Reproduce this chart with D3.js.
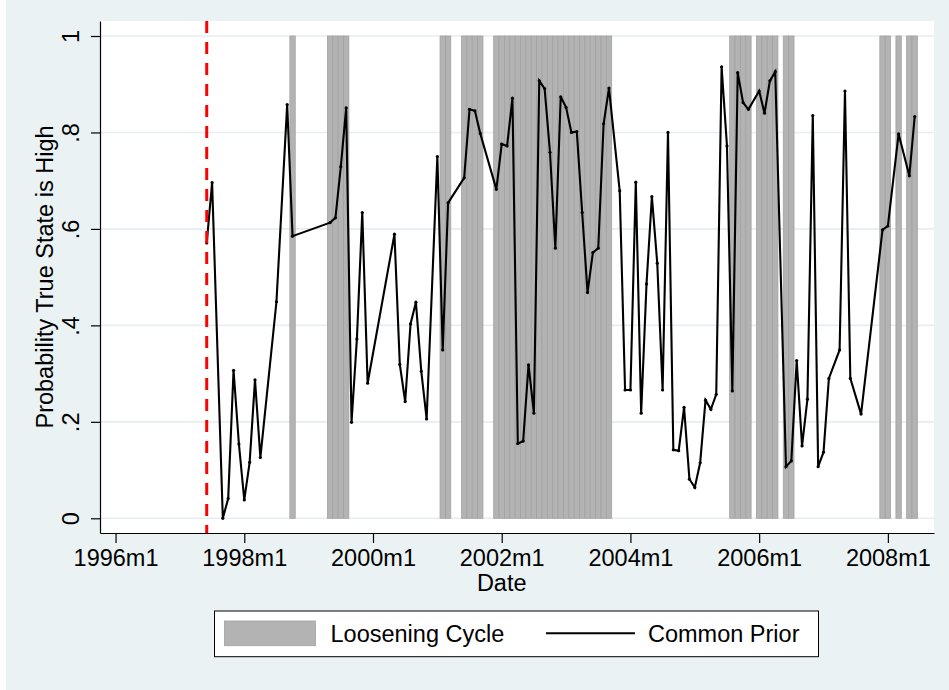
<!DOCTYPE html>
<html><head><meta charset="utf-8">
<script src="https://cdn.jsdelivr.net/npm/d3@7"></script>
<style>
body{margin:0;background:#fff}
svg{display:block}
text{font-family:"Liberation Sans",Arial,Helvetica,sans-serif;fill:#000}
</style>
</head><body>
<svg id="chart" width="949" height="690"></svg>
<script>
// ---------------- data ----------------
const obsDates = ["1997m6","1997m7","1997m9","1997m10","1997m11","1997m12","1998m1","1998m2","1998m3","1998m4",
  "1998m7","1998m9","1998m10","1999m5","1999m6","1999m7","1999m8","1999m9","1999m10","1999m11","1999m12",
  "2000m5","2000m6","2000m7","2000m8","2000m9","2000m10","2000m11","2001m1","2001m2","2001m3",
  "2001m6","2001m7","2001m8","2001m9","2001m12","2002m1","2002m2","2002m3","2002m4","2002m5","2002m6",
  "2002m7","2002m8","2002m9","2002m10","2002m11","2002m12","2003m1","2003m2","2003m3","2003m4","2003m5",
  "2003m6","2003m7","2003m8","2003m9","2003m11","2003m12","2004m1","2004m2","2004m3","2004m4","2004m5",
  "2004m6","2004m7","2004m8","2004m9","2004m10","2004m11","2004m12","2005m1","2005m2","2005m3","2005m4",
  "2005m5","2005m6","2005m7","2005m8","2005m9","2005m10","2005m11","2006m1","2006m2","2006m3","2006m4",
  "2006m6","2006m7","2006m8","2006m9","2006m10","2006m11","2006m12","2007m1","2007m2","2007m4","2007m5",
  "2007m6","2007m8","2007m12","2008m1","2008m3","2008m5","2008m6"];
const commonPrior = [0.571,0.696,0.000,0.041,0.307,0.154,0.038,0.116,0.287,0.126,
  0.449,0.858,0.585,0.613,0.623,0.729,0.851,0.199,0.372,0.634,0.280,
  0.589,0.319,0.242,0.403,0.448,0.305,0.206,0.750,0.349,0.654,
  0.706,0.848,0.845,0.798,0.682,0.776,0.772,0.871,0.155,0.160,0.318,
  0.218,0.907,0.891,0.759,0.560,0.874,0.852,0.800,0.802,0.634,0.468,
  0.551,0.560,0.818,0.892,0.679,0.266,0.266,0.697,0.218,0.486,0.667,
  0.529,0.266,0.800,0.142,0.140,0.230,0.081,0.064,0.115,0.245,0.226,
  0.257,0.936,0.772,0.264,0.924,0.862,0.848,0.886,0.840,0.907,0.926,
  0.107,0.119,0.327,0.150,0.247,0.835,0.107,0.137,0.290,0.349,0.886,
  0.290,0.216,0.598,0.606,0.797,0.710,0.833];
const looseningMonths = ["1998m10","1999m5","1999m6","1999m7","1999m8","2001m2","2001m3",
  "2001m6","2001m7","2001m8","2001m9",
  "2001m12","2002m1","2002m2","2002m3","2002m4","2002m5","2002m6","2002m7","2002m8","2002m9","2002m10",
  "2002m11","2002m12","2003m1","2003m2","2003m3","2003m4","2003m5","2003m6","2003m7","2003m8","2003m9",
  "2005m8","2005m9","2005m10","2005m11","2006m1","2006m2","2006m3","2006m4","2006m6","2006m7",
  "2007m12","2008m1","2008m3","2008m5","2008m6"];
const xTickLabels = ["1996m1","1998m1","2000m1","2002m1","2004m1","2006m1","2008m1"];
const yTickValues = [0,0.2,0.4,0.6,0.8,1];
const yTickLabels = ["0",".2",".4",".6",".8","1"];
const eventDate = "1997m6";
const legendLabels = ["Loosening Cycle","Common Prior"];
const axisTitles = {x:"Date", y:"Probability True State is High"};

// month index from Stata-style "YYYYmM"
function mIdx(s){const p=s.split("m");return (+p[0]-1996)*12+(+p[1]-1);}

// ---------------- layout ----------------
const W=949,H=690;
const plot={l:100,r:934,t:21,b:533};
const FS=23.5;
const bg="#EAF2F3";

const svg=d3.select("#chart");
svg.append("rect").attr("x",6).attr("y",0).attr("width",W-6).attr("height",H).attr("fill",bg);
svg.append("rect").attr("x",plot.l).attr("y",plot.t).attr("width",plot.r-plot.l).attr("height",plot.b-plot.t).attr("fill","#fff");

const x=d3.scaleLinear().domain([-2.9,152.6]).range([plot.l,plot.r]);
const y=d3.scaleLinear().domain([-0.0305,1.0311]).range([plot.b,plot.t]);
const mw=x(1)-x(0);

// gridlines
svg.append("g").selectAll("line").data(yTickValues).join("line")
  .attr("x1",plot.l).attr("x2",plot.r).attr("y1",d=>y(d)).attr("y2",d=>y(d))
  .attr("stroke","#E6EEF1").attr("stroke-width",1.6);

// loosening bars
svg.append("g").selectAll("rect").data(looseningMonths).join("rect")
  .attr("x",d=>x(mIdx(d))-mw/2).attr("width",mw)
  .attr("y",y(1)).attr("height",y(0)-y(1))
  .attr("fill","#B3B3B3").attr("stroke","#A2A2A2").attr("stroke-width",0.8);

// line
const pts=obsDates.map((d,i)=>({m:mIdx(d),v:commonPrior[i]}));
svg.append("path").datum(pts)
  .attr("d",d3.line().x(d=>x(d.m)).y(d=>y(d.v)))
  .attr("fill","none").attr("stroke","#000").attr("stroke-width",2.1).attr("stroke-linejoin","miter");
svg.append("g").selectAll("circle").data(pts).join("circle")
  .attr("cx",d=>x(d.m)).attr("cy",d=>y(d.v)).attr("r",1.6).attr("fill","#000");

// event line
svg.append("line").attr("x1",x(mIdx(eventDate))).attr("x2",x(mIdx(eventDate)))
  .attr("y1",plot.t).attr("y2",plot.b)
  .attr("stroke","#FF0000").attr("stroke-width",3).attr("stroke-dasharray","12,9");

// x axis
const xa=svg.append("g").attr("transform",`translate(0,${plot.b})`)
  .call(d3.axisBottom(x).tickValues(xTickLabels.map(mIdx)).tickFormat((d,i)=>xTickLabels[i])
    .tickSize(10).tickSizeOuter(0));
xa.attr("font-size",FS).attr("font-family",null);
xa.select(".domain").attr("stroke","#000").attr("stroke-width",1.2);
xa.selectAll(".tick line").attr("stroke","#000").attr("stroke-width",1.2);
xa.selectAll(".tick text").attr("y",32.7).attr("dy",null).attr("fill","#000");

// y axis
const ya=svg.append("g").attr("transform",`translate(${plot.l},0)`)
  .call(d3.axisLeft(y).tickValues(yTickValues).tickFormat((d,i)=>yTickLabels[i])
    .tickSize(9).tickSizeOuter(0));
ya.attr("font-size",FS).attr("font-family",null);
ya.select(".domain").attr("stroke","#000").attr("stroke-width",1.2);
ya.selectAll(".tick line").attr("stroke","#000").attr("stroke-width",1.2);
ya.selectAll(".tick text").attr("x",null).attr("dy",null).attr("text-anchor","middle")
  .attr("transform","translate(-21,0) rotate(-90)").attr("fill","#000");

// titles
svg.append("text").attr("x",x(mIdx("2002m1"))).attr("y",590.5)
  .attr("text-anchor","middle").attr("font-size",FS).text(axisTitles.x);
svg.append("text").attr("transform",`translate(53,${(plot.t+plot.b)/2}) rotate(-90)`)
  .attr("text-anchor","middle").attr("font-size",FS).text(axisTitles.y);

// legend
const lg=svg.append("g");
lg.append("rect").attr("x",214.5).attr("y",611).attr("width",604).attr("height",45.7)
  .attr("fill","#fff").attr("stroke","#000").attr("stroke-width",1);
lg.append("rect").attr("x",224.5).attr("y",621).attr("width",91).attr("height",24.7)
  .attr("fill","#B3B3B3").attr("stroke","#A2A2A2").attr("stroke-width",0.8);
lg.append("text").attr("x",330.5).attr("y",641.7).attr("font-size",FS).text(legendLabels[0]);
lg.append("line").attr("x1",546).attr("x2",635).attr("y1",633.3).attr("y2",633.3)
  .attr("stroke","#000").attr("stroke-width",2.1);
lg.append("text").attr("x",648).attr("y",641.7).attr("font-size",FS).text(legendLabels[1]);
</script>
</body></html>
